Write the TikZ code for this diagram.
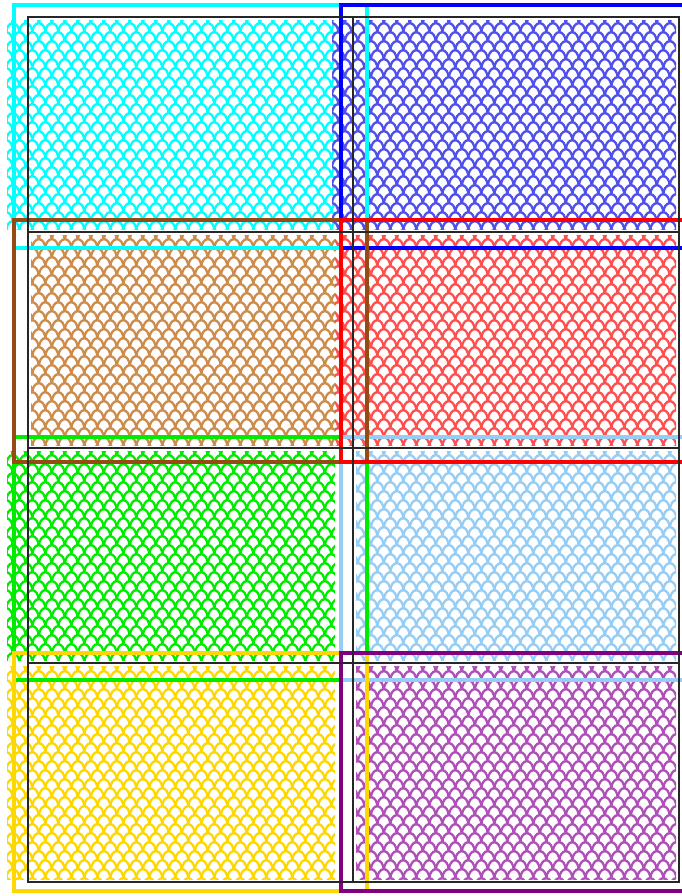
\documentclass[tikz,border=0pt]{standalone}
\usetikzlibrary{patterns}

\definecolor{rcyan}{RGB}{0,255,255}
\definecolor{rblue}{RGB}{0,0,255}
\definecolor{rbrown}{RGB}{150,75,20}
\definecolor{rred}{RGB}{255,0,0}
\definecolor{rgreen}{RGB}{0,235,0}
\definecolor{rlight}{RGB}{150,205,245}
\definecolor{rgold}{RGB}{255,215,0}
\definecolor{rpurple}{RGB}{128,0,128}
\definecolor{pbrown}{RGB}{205,140,75}
\definecolor{pblue}{RGB}{80,80,235}
\definecolor{pred}{RGB}{255,80,80}
\definecolor{ppurple}{RGB}{175,80,185}

% overlapping scale tiles
\pgfdeclarepatternformonly{scales}{\pgfqpoint{0pt}{0pt}}{\pgfqpoint{7.57pt}{10.24pt}}{\pgfqpoint{7.57pt}{10.24pt}}{%
  \pgfsetlinewidth{1.35pt}%
  \pgfpathmoveto{\pgfqpoint{0pt}{5.12pt}}%
  \pgfpatharc{180}{0}{3.785pt and 5.6pt}%
  \pgfpathmoveto{\pgfqpoint{0pt}{-5.12pt}}%
  \pgfpatharc{180}{0}{3.785pt and 5.6pt}%
  \pgfpathmoveto{\pgfqpoint{0pt}{5.6pt}}%
  \pgfpatharc{90}{0}{3.785pt and 5.6pt}%
  \pgfpathmoveto{\pgfqpoint{3.785pt}{0pt}}%
  \pgfpatharc{180}{90}{3.785pt and 5.6pt}%
  \pgfusepath{stroke}%
}

\tikzset{
  cellpat/.style={pattern=scales, pattern color=#1},
  rim/.style={draw=#1, line width=2.8pt},
  gridbox/.style={draw=black!85, line width=1.1pt}
}

\begin{document}
\begin{tikzpicture}[x=0.02cm, y=-0.02cm]
  \useasboundingbox (0,0) rectangle (682,896);
  \clip (0,0) rectangle (682,896);
  % patterned fields
  \foreach \xa/\xb/\ya/\yb/\c in {7/335/20/229/rcyan, 332/676/20/229/pblue,
      31/335/235/445/pbrown, 335/676/235/445/pred,
      7/335/451/660/rgreen, 356/676/451/660/rlight,
      7/335/666/879/rgold, 356/676/666/879/ppurple}{
    \fill[cellpat=\c] (\xa,\ya) rectangle (\xb,\yb);
  }
  % coloured frames
  \foreach \xa/\xb/\ya/\yb/\c in {14/367/5/248/rcyan, 341/694/5/248/rblue,
      14/367/437/680/rgreen, 341/694/437/680/rlight,
      14/367/220/462/rbrown, 341/694/220/462/rred,
      14/367/653/891/rgold, 341/694/653/891/rpurple}{
    \draw[rim=\c] (\xa,\ya) rectangle (\xb,\yb);
  }
  % black cells
  \foreach \ya/\yb in {17/232, 232/448, 448/663, 663/882}{
    \draw[gridbox] (28,\ya) rectangle (353,\yb);
    \draw[gridbox] (353,\ya) rectangle (679,\yb);
  }
\end{tikzpicture}
\end{document}
